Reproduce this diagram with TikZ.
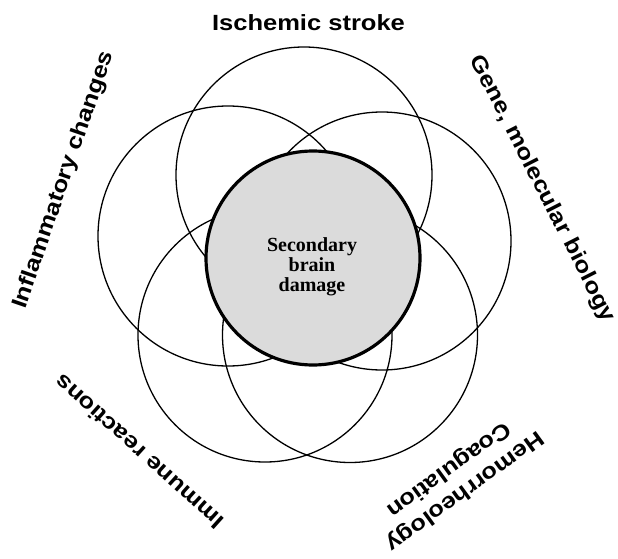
\documentclass[tikz,border=0pt]{standalone}
\usepackage{fontspec}
\newfontfamily\labelfont[FakeStretch=1.16]{Liberation Sans}
\newfontfamily\corefont{Liberation Serif}
\tikzset{
  outer/.style={circle, draw=black, line width=1.3pt, inner sep=0pt},
  core/.style={circle, draw=black, fill=black!14, line width=3.2pt, inner sep=0pt},
  lbl/.style={font=\labelfont\bfseries\fontsize{22}{27}\selectfont, inner sep=0pt, align=center},
  coretext/.style={font=\corefont\bfseries\fontsize{20}{20}\selectfont, inner sep=0pt, align=center}
}
\begin{document}
\begin{tikzpicture}[x=1pt, y=-1pt]
\useasboundingbox[fill=white] (0,0) rectangle (618,559);
% outer circles
\node[outer, minimum size=256pt] (ctop) at (304,175) {};
\node[outer, minimum size=260pt] (cleft) at (228,236) {};
\node[outer, minimum size=258pt] (cright) at (382,241) {};
\node[outer, minimum size=254pt] (cbl) at (265,335) {};
\node[outer, minimum size=255pt] (cbr) at (350,335) {};
% central circle
\node[core, minimum size=214pt] (core) at (313,258) {};
\node[coretext] (coretxt) at (312,267) {Secondary\\brain\\damage};
% labels
\node[lbl, anchor=base] (lischemic) at (308.5,31) {Ischemic stroke};
\node[lbl, rotate=71] (linfl) at (64,180) {Inflammatory changes};
\node[lbl, rotate=-63] (lgene) at (542,189) {Gene, molecular biology};
\node[lbl, rotate=138] (limmune) at (139,452) {Immune reactions};
\node[lbl, rotate=-144] (lhemo) at (456.5,480) {Hemorrheology\\Coagulation};
\end{tikzpicture}
\end{document}
